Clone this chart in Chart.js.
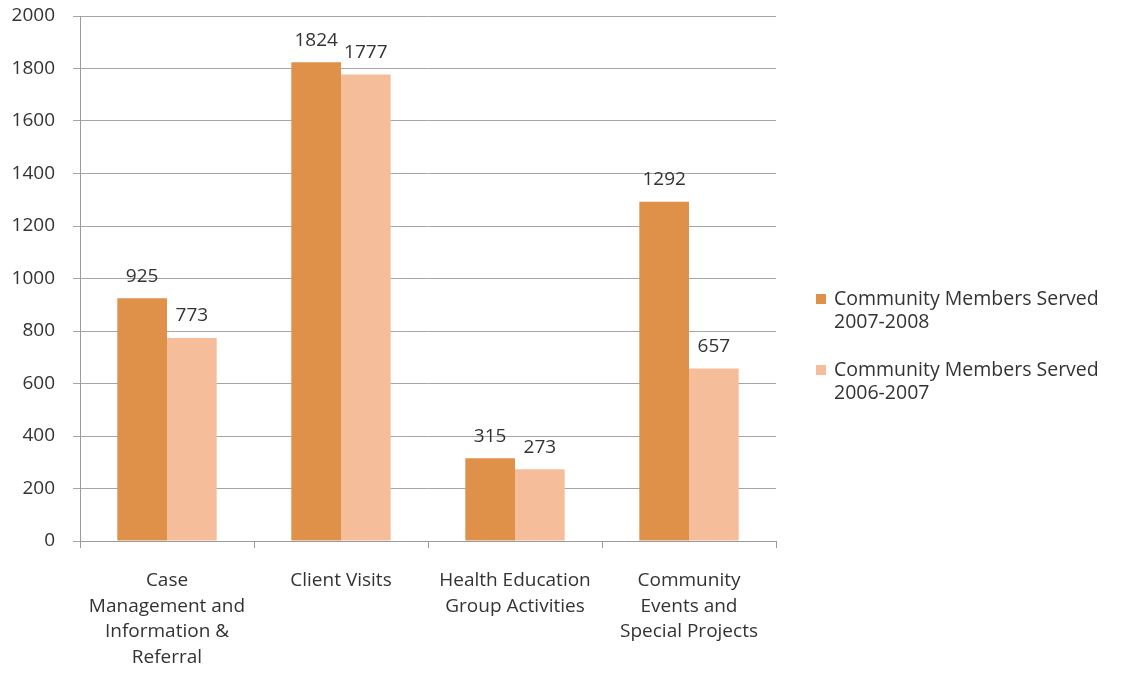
<!DOCTYPE html>
<html>
<head>
<meta charset="utf-8">
<script src="https://cdn.jsdelivr.net/npm/chart.js@4/dist/chart.umd.min.js"></script>
<style>
html,body{margin:0;padding:0;background:#fff;}
#wrap{width:1124px;height:677px;}
</style>
</head>
<body>
<div id="wrap"><canvas id="c" width="1124" height="677"></canvas></div>
<script>
const categories = [
  ["Case", "Management and", "Information &", "Referral"],
  ["Client Visits"],
  ["Health Education", "Group Activities"],
  ["Community", "Events and", "Special Projects"]
];
const seriesNames = [
  ["Community Members Served", "2007-2008"],
  ["Community Members Served", "2006-2007"]
];
const served2007_2008 = [925, 1824, 315, 1292];
const served2006_2007 = [773, 1777, 273, 657];
const yTicks = [0, 200, 400, 600, 800, 1000, 1200, 1400, 1600, 1800, 2000];

const colors = ["#DF914A", "#F6BD9A"];
const FONT = "'Open Sans', sans-serif";
const FS = 19;
const TXT = "#333333";

const valueLabels = {
  id: 'valueLabels',
  afterDatasetsDraw(chart) {
    const ctx = chart.ctx;
    ctx.save();
    ctx.font = FS + "px " + FONT;
    ctx.fillStyle = TXT;
    ctx.textAlign = 'center';
    ctx.textBaseline = 'middle';
    chart.data.datasets.forEach((ds, i) => {
      const meta = chart.getDatasetMeta(i);
      meta.data.forEach((bar, j) => {
        ctx.fillText(String(ds.data[j]), bar.x, bar.y - 22);
      });
    });
    ctx.restore();
  }
};

const customLegend = {
  id: 'customLegend',
  afterDraw(chart) {
    const ctx = chart.ctx;
    ctx.save();
    ctx.font = "19.5px " + FONT;
    ctx.textBaseline = 'middle';
    ctx.textAlign = 'left';
    const startY = [299, 370];
    chart.data.datasets.forEach((ds, i) => {
      const y0 = startY[i];
      ctx.fillStyle = ds.backgroundColor;
      ctx.fillRect(816, y0 - 5, 10, 10);
      ctx.fillStyle = TXT;
      ds.label.forEach((line, k) => {
        ctx.fillText(line, 834, y0 + k * 23);
      });
    });
    ctx.restore();
  }
};

new Chart(document.getElementById('c'), {
  type: 'bar',
  data: {
    labels: categories,
    datasets: [
      { label: seriesNames[0], data: served2007_2008, backgroundColor: colors[0] },
      { label: seriesNames[1], data: served2006_2007, backgroundColor: colors[1] }
    ]
  },
  options: {
    responsive: false,
    animation: false,
    devicePixelRatio: 1,
    layout: { padding: { left: 0, top: 16, right: 348, bottom: 0 } },
    datasets: { bar: { categoryPercentage: 0.571, barPercentage: 1.0, borderWidth: 0 } },
    plugins: {
      legend: { display: false },
      tooltip: { enabled: false }
    },
    scales: {
      x: {
        grid: { display: true, drawOnChartArea: false, drawTicks: true, tickLength: 7, color: '#9a9a9a', offset: true },
        border: { display: true, color: '#9a9a9a', width: 1 },
        ticks: { color: TXT, font: { family: FONT, size: FS, lineHeight: 1.34 }, padding: 20, maxRotation: 0, autoSkip: false },
        afterFit(scale) { scale.height = 136; scale.paddingLeft = 0; scale.paddingRight = 0; }
      },
      y: {
        min: 0, max: 2000,
        afterBuildTicks(scale) { scale.ticks = yTicks.map(v => ({ value: v })); },
        grid: { color: '#a6a6a6', lineWidth: 1, tickLength: 7 },
        border: { display: true, color: '#9a9a9a', width: 1 },
        ticks: { color: TXT, font: { family: FONT, size: FS }, padding: 18, callback: (v) => String(v) },
        afterFit(scale) { scale.width = 80; scale.paddingTop = 0; scale.paddingBottom = 0; }
      }
    }
  },
  plugins: [valueLabels, customLegend]
});
</script>
</body>
</html>
